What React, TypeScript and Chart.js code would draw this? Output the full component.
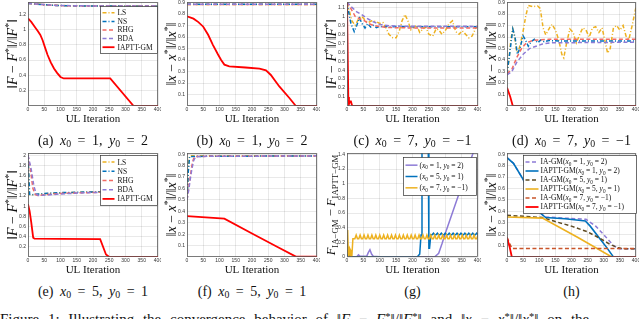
import React, { useEffect, useRef } from 'react';
import { Chart, registerables } from 'chart.js';
Chart.register(...registerables);

const SERIF = '"Liberation Serif", "DejaVu Serif", serif';
const SANS = '"Liberation Sans", "DejaVu Sans", sans-serif';

// ---------------- data ----------------
const X_TICKS = [0, 50, 100, 150, 200, 250, 300, 350, 400];

// (a) ||F-F*||/||F*||, x0=1, y0=2
const A_Y_TICKS = [0.2, 0.4, 0.6, 0.8, 1, 1.2];
const A_IT = [0, 25, 50, 75, 100, 150, 200, 300, 400];
const A_LS = [1.345, 1.335, 1.326, 1.319, 1.314, 1.31, 1.308, 1.307, 1.306];
const A_NS = [1.342, 1.332, 1.324, 1.317, 1.313, 1.309, 1.307, 1.306, 1.305];
const A_RHG = [1.344, 1.333, 1.325, 1.318, 1.313, 1.31, 1.308, 1.307, 1.306];
const A_BDA = [1.346, 1.335, 1.326, 1.319, 1.314, 1.311, 1.309, 1.308, 1.307];
const A_OURS_IT = [0, 10, 20, 30, 38, 45, 52, 60, 70, 80, 90, 100, 110, 253, 325, 400];
const A_OURS = [1.145, 1.1, 1.04, 0.98, 0.93, 0.86, 0.77, 0.67, 0.57, 0.49, 0.43, 0.38, 0.36, 0.36, 0.0, 0.0];

// (b) ||x-x*||/||x*||, x0=1, y0=2
const B_Y_TICKS = [0.1, 0.2, 0.3, 0.4, 0.5, 0.6, 0.7, 0.8, 0.9];
const B_IT = [0, 100, 200, 300, 400];
const B_LS = [0.884, 0.884, 0.884, 0.884, 0.884];
const B_NS = [0.885, 0.885, 0.885, 0.885, 0.885];
const B_RHG = [0.884, 0.884, 0.884, 0.884, 0.884];
const B_BDA = [0.885, 0.885, 0.885, 0.885, 0.885];
const B_OURS_IT = [0, 20, 35, 50, 65, 80, 95, 105, 115, 130, 180, 223, 243, 258, 284, 315, 335, 400];
const B_OURS = [0.78, 0.76, 0.73, 0.69, 0.62, 0.53, 0.45, 0.4, 0.36, 0.345, 0.335, 0.325, 0.31, 0.27, 0.17, 0.07, 0.0, 0.0];

// (c) ||F-F*||/||F*||, x0=7, y0=-1
const C_Y_TICKS = [0.1, 0.2, 0.3, 0.4, 0.5, 0.6, 0.7, 0.8, 0.9, 1, 1.1];
const C_LS_IT = [0, 8, 15, 25, 35, 45, 55, 65, 75, 90, 100, 110, 118, 128, 140, 150, 160, 168, 177, 186, 195, 205, 213, 222, 232, 240, 250, 262, 272, 280, 290, 300, 312, 322, 332, 342, 352, 362, 372, 382, 392, 400];
const C_LS = [1.15, 1.05, 0.95, 0.9, 0.97, 1.0, 0.96, 0.93, 0.95, 0.94, 0.92, 0.93, 0.88, 0.8, 0.76, 0.76, 0.84, 0.95, 1.02, 0.95, 0.85, 0.88, 0.9, 0.82, 0.86, 0.88, 0.8, 0.78, 0.86, 0.85, 0.8, 0.84, 0.92, 0.95, 0.83, 0.8, 0.84, 0.8, 0.76, 0.78, 0.86, 0.9];
const C_NS_IT = [0, 5, 12, 22, 30, 38, 46, 55, 63, 72, 80, 90, 100, 110, 120, 130, 150, 200, 250, 300, 350, 400];
const C_NS = [1.16, 1.05, 0.92, 0.83, 0.9, 0.98, 0.92, 0.87, 0.92, 0.88, 0.9, 0.875, 0.89, 0.878, 0.888, 0.882, 0.886, 0.884, 0.885, 0.884, 0.885, 0.885];
const C_RHG_IT = [0, 10, 25, 40, 50, 65, 80, 100, 130, 200, 400];
const C_RHG = [1.16, 1.1, 1.0, 0.97, 0.96, 0.92, 0.9, 0.885, 0.875, 0.87, 0.87];
const C_BDA_IT = [0, 15, 30, 45, 60, 80, 100, 130, 170, 400];
const C_BDA = [1.16, 1.1, 1.05, 1.02, 0.98, 0.94, 0.91, 0.895, 0.89, 0.888];
const C_OURS_IT = [0, 4, 6, 9, 12, 15, 18, 400];
const C_OURS = [1.15, 0.1, 0.02, 0.05, 0.05, 0.01, 0.0, 0.0];

// (d) ||x-x*||/||x*||, x0=7, y0=-1
const D_Y_TICKS = [0.1, 0.2, 0.3, 0.4, 0.5, 0.6, 0.7, 0.8, 0.9];
const D_LS_IT = [0, 6, 12, 18, 24, 30, 38, 48, 58, 66, 80, 95, 103, 112, 120, 132, 140, 150, 160, 170, 176, 185, 195, 205, 215, 225, 235, 245, 255, 265, 275, 285, 295, 305, 312, 320, 330, 340, 350, 360, 370, 378, 388, 400];
const D_LS = [0.28, 0.4, 0.58, 0.67, 0.6, 0.47, 0.5, 0.62, 0.78, 0.875, 0.865, 0.87, 0.85, 0.68, 0.62, 0.68, 0.71, 0.66, 0.58, 0.45, 0.42, 0.55, 0.67, 0.64, 0.55, 0.62, 0.68, 0.66, 0.6, 0.68, 0.69, 0.64, 0.68, 0.55, 0.46, 0.5, 0.68, 0.7, 0.66, 0.7, 0.6, 0.58, 0.7, 0.86];
const D_NS_IT = [0, 8, 18, 25, 32, 40, 50, 58, 66, 75, 85, 95, 105, 115, 130, 160, 400];
const D_NS = [0.28, 0.45, 0.67, 0.6, 0.45, 0.5, 0.61, 0.57, 0.52, 0.56, 0.58, 0.55, 0.575, 0.56, 0.57, 0.565, 0.565];
const D_RHG_IT = [0, 15, 30, 45, 60, 80, 100, 130, 400];
const D_RHG = [0.28, 0.32, 0.42, 0.5, 0.55, 0.57, 0.575, 0.58, 0.58];
const D_BDA_IT = [0, 15, 30, 50, 70, 90, 110, 140, 400];
const D_BDA = [0.27, 0.3, 0.38, 0.45, 0.5, 0.52, 0.54, 0.55, 0.555];
const D_OURS_IT = [0, 10, 18, 400];
const D_OURS = [0.16, 0.08, 0.0, 0.0];

// (e) ||F-F*||/||F*||, x0=5, y0=1
const E_Y_TICKS = [0.2, 0.4, 0.6, 0.8, 1, 1.2, 1.4, 1.6, 1.8, 2];
const E_LS_IT = [0, 4, 10, 50, 100, 200, 300, 400];
const E_LS = [2.0, 1.23, 1.22, 1.245, 1.26, 1.28, 1.285, 1.29];
const E_NS_IT = [0, 5, 12, 50, 100, 200, 400];
const E_NS = [2.0, 1.23, 1.225, 1.25, 1.265, 1.28, 1.29];
const E_RHG_IT = [0, 8, 15, 22, 30, 60, 100, 200, 400];
const E_RHG = [2.0, 1.7, 1.35, 1.23, 1.21, 1.23, 1.25, 1.27, 1.28];
const E_BDA_IT = [0, 10, 18, 25, 32, 60, 100, 200, 400];
const E_BDA = [2.0, 1.72, 1.4, 1.24, 1.21, 1.22, 1.24, 1.27, 1.28];
const E_OURS_IT = [0, 5, 10, 16, 20, 100, 222, 240, 250, 400];
const E_OURS = [1.04, 0.9, 0.68, 0.38, 0.36, 0.355, 0.35, 0.05, 0.0, 0.0];

// (f) ||x-x*||/||x*||, x0=5, y0=1
const F_Y_TICKS = [0.1, 0.2, 0.3, 0.4, 0.5, 0.6, 0.7, 0.8, 0.9];
const F_LS_IT = [0, 3, 6, 9, 400];
const F_LS = [0.5, 0.7, 0.86, 0.885, 0.885];
const F_NS_IT = [0, 4, 8, 400];
const F_NS = [0.5, 0.75, 0.88, 0.885];
const F_RHG_IT = [0, 5, 10, 15, 20, 25, 400];
const F_RHG = [0.5, 0.6, 0.7, 0.8, 0.86, 0.88, 0.885];
const F_BDA_IT = [0, 5, 10, 15, 20, 27, 400];
const F_BDA = [0.5, 0.58, 0.68, 0.77, 0.84, 0.88, 0.885];
const F_OURS_IT = [0, 115, 200, 280, 335, 400];
const F_OURS = [0.357, 0.335, 0.205, 0.085, 0.003, 0.003];

// (g) F_IA-GM - F_IAPTT-GM
const G_Y_TICKS = [0, 0.2, 0.4, 0.6, 0.8, 1, 1.2, 1.4];
const G_P1_IT = [0, 30, 35, 40, 60, 65, 70, 75, 80, 100, 200, 268, 280, 290, 300, 385, 400];
const G_P1 = [0, 0.005, 0.03, 0.01, 0.01, 0.06, 0.1, 0.04, 0.01, 0.005, 0.003, 0.003, 0.05, 0.18, 0.32, 1.42, 1.6];
const STEP4_256 = Array.from({ length: 37 }, (_, i) => 256 + 4 * i);
const G_P5_IT = [0, 3, 6, 10, 100, 200, 215, 222, 226, 229, 248, 250, 252, ...STEP4_256];
const G_P5 = [0.02, 0.14, 0.05, 0, 0, 0, 0.005, 0.04, 0.3, 1.6, 1.6, 0.12, 0.12,
  0.305, 0.305, 0.325, 0.305, 0.305, 0.325, 0.305, 0.305, 0.325, 0.305, 0.305, 0.325,
  0.305, 0.305, 0.325, 0.305, 0.305, 0.325, 0.305, 0.305, 0.325, 0.305, 0.305, 0.325,
  0.305, 0.305, 0.325, 0.305, 0.305, 0.325, 0.305, 0.305, 0.325, 0.305, 0.305, 0.325, 0.305];
const STEP4_20 = Array.from({ length: 96 }, (_, i) => 20 + 4 * i);
const G_P7_IT = [0, 2, 4, 6, 8, 10, 12, 15, 18, ...STEP4_20];
const G_P7 = [0.05, 0.37, 0.05, 0.0, 0.12, 0.1, 0.0, 0.02, 0.25,
  0.25, 0.25, 0.3, 0.25, 0.25, 0.3, 0.25, 0.25, 0.3, 0.25, 0.25, 0.3,
  0.25, 0.25, 0.3, 0.25, 0.25, 0.3, 0.25, 0.25, 0.3, 0.25, 0.25, 0.3,
  0.25, 0.25, 0.3, 0.25, 0.25, 0.3, 0.25, 0.25, 0.3, 0.25, 0.25, 0.3,
  0.25, 0.25, 0.3, 0.25, 0.25, 0.3, 0.25, 0.25, 0.3, 0.25, 0.25, 0.3,
  0.25, 0.25, 0.3, 0.25, 0.25, 0.3, 0.25, 0.25, 0.3, 0.25, 0.25, 0.3,
  0.25, 0.25, 0.3, 0.25, 0.25, 0.3, 0.25, 0.25, 0.3, 0.25, 0.25, 0.3,
  0.25, 0.25, 0.3, 0.25, 0.25, 0.3, 0.25, 0.25, 0.3, 0.25, 0.25, 0.3,
  0.25, 0.25, 0.3, 0.25, 0.25, 0.3, 0.25, 0.25, 0.3, 0.25, 0.25, 0.3];

// (h) ||x-x*||/||x*||, IA-GM vs IAPTT-GM
const H_Y_TICKS = [0.1, 0.2, 0.3, 0.4, 0.5, 0.6, 0.7, 0.8, 0.9];
const H_IA1_IT = [0, 20, 50, 70, 90, 105, 120, 180, 245, 275, 305, 330, 348, 400];
const H_IA1 = [0.87, 0.82, 0.68, 0.56, 0.45, 0.38, 0.35, 0.34, 0.33, 0.27, 0.18, 0.1, 0.072, 0.072];
const H_OU1_IT = [0, 20, 50, 70, 90, 105, 120, 180, 243, 258, 285, 310, 330, 400];
const H_OU1 = [0.87, 0.82, 0.68, 0.56, 0.45, 0.38, 0.345, 0.335, 0.315, 0.27, 0.17, 0.08, 0.0, 0.0];
const H_IA5_IT = [0, 60, 110, 150, 200, 250, 290, 320, 345, 360, 400];
const H_IA5 = [0.365, 0.355, 0.345, 0.31, 0.27, 0.22, 0.16, 0.11, 0.08, 0.072, 0.072];
const H_OU5_IT = [0, 110, 220, 325, 400];
const H_OU5 = [0.35, 0.34, 0.17, 0.0, 0.0];
const H_IA7_IT = [0, 8, 15, 400];
const H_IA7 = [0.17, 0.12, 0.075, 0.075];
const H_OU7_IT = [0, 8, 15, 400];
const H_OU7 = [0.17, 0.09, 0.0, 0.0];

const CAPTIONS = [
  '(a) $x$_0 = 1, $y$_0 = 2', '(b) $x$_0 = 1, $y$_0 = 2', '(c) $x$_0 = 7, $y$_0 = −1', '(d) $x$_0 = 7, $y$_0 = −1',
  '(e) $x$_0 = 5, $y$_0 = 1', '(f) $x$_0 = 5, $y$_0 = 1', '(g)', '(h)',
];
const FIG_TEXT = 'Figure 1: Illustrating the convergence behavior of ‖$F$ − $F$^*‖/‖$F$^*‖ and ‖$x$ − $x$^*‖/‖$x$^*‖ on the';
const TITLE_F = '‖$F$ − $F$^*‖/‖$F$^*‖';
const TITLE_X = '‖$x$ − $x$^*‖/‖$x$^*‖';
const TITLE_G = '$F$_{IA−GM} − $F$_{IAPTT−GM}';

// ---------------- styles ----------------
const COL_LS = '#EDB120';
const COL_NS = '#0072BD';
const COL_RHG = '#F26A63';
const COL_BDA = '#8D7BD6';
const COL_OURS = '#FF0000';
const COL_BROWN = '#5E4B23';
const COL_ORANGE = '#C9552B';
const DASH_DOT = [4, 2, 1, 2];
const DASHED = [4, 2.5];
const SOLID: number[] = [];

type Seg = { t: string; it: boolean; sub: number };
function parse(s: string): Seg[] {
  const out: Seg[] = [];
  let it = false, buf = '', i = 0;
  const flush = () => { if (buf) { out.push({ t: buf, it, sub: 0 }); buf = ''; } };
  while (i < s.length) {
    const c = s[i];
    if (c === '$') { flush(); it = !it; i++; continue; }
    if (c === '_' || c === '^') {
      flush();
      let t = '';
      if (s[i + 1] === '{') { const j = s.indexOf('}', i + 2); t = s.slice(i + 2, j); i = j + 1; }
      else { t = s[i + 1]; i += 2; }
      out.push({ t, it: false, sub: c === '_' ? -1 : 1 });
      continue;
    }
    buf += c; i++;
  }
  flush();
  return out;
}
function segFont(g: Seg, size: number) {
  const sz = g.sub ? size * 0.7 : size;
  return `${g.it ? 'italic ' : ''}${sz}px ${SERIF}`;
}
function segWidth(ctx: CanvasRenderingContext2D, segs: Seg[], size: number) {
  let w = 0;
  for (const g of segs) { ctx.font = segFont(g, size); w += ctx.measureText(g.t).width; }
  return w;
}
function drawSegs(ctx: CanvasRenderingContext2D, segs: Seg[], x: number, yMid: number, size: number, color: string) {
  ctx.fillStyle = color;
  ctx.textBaseline = 'alphabetic';
  ctx.textAlign = 'left';
  let cx = x;
  const base = yMid + size * 0.33;
  for (const g of segs) {
    ctx.font = segFont(g, size);
    const dy = g.sub === -1 ? size * 0.22 : g.sub === 1 ? -size * 0.35 : 0;
    ctx.fillText(g.t, cx, base + dy);
    cx += ctx.measureText(g.t).width;
  }
}
function toNodes(s: string) {
  return parse(s).map((g, i) => {
    if (g.sub === -1) return <sub key={i} style={{ fontSize: '0.7em', verticalAlign: '-0.25em' }}>{g.t}</sub>;
    if (g.sub === 1) return <sup key={i} style={{ fontSize: '0.7em', verticalAlign: '0.4em' }}>{g.t}</sup>;
    if (g.it) return <i key={i}>{g.t}</i>;
    return <span key={i}>{g.t}</span>;
  });
}

type Line = { label: string; it: number[]; val: number[]; color: string; dash: number[]; width: number };
type LegendCfg = { right: number; top: number; w: number; h: number; s0: number; s1: number; tx: number; font: number; lines: Line[] };
type Panel = { rect: [number, number, number, number]; yMax: number; yTicks: number[]; yTitle: string; titleSize: number; lines: Line[]; legend?: LegendCfg };

const L = (label: string, it: number[], val: number[], color: string, dash: number[], width: number): Line => ({ label, it, val, color, dash, width });

const four = (it1: number[], ls: number[], it2: number[], ns: number[], it3: number[], rhg: number[], it4: number[], bda: number[], it5: number[], ours: number[]) => [
  L('LS', it1, ls, COL_LS, DASH_DOT, 1.5),
  L('NS', it2, ns, COL_NS, DASH_DOT, 1.5),
  L('RHG', it3, rhg, COL_RHG, DASHED, 1.5),
  L('BDA', it4, bda, COL_BDA, DASHED, 1.5),
  L('IAPTT-GM', it5, ours, COL_OURS, SOLID, 1.8),
];

const A_LINES = four(A_IT, A_LS, A_IT, A_NS, A_IT, A_RHG, A_IT, A_BDA, A_OURS_IT, A_OURS);
const E_LINES = four(E_LS_IT, E_LS, E_NS_IT, E_NS, E_RHG_IT, E_RHG, E_BDA_IT, E_BDA, E_OURS_IT, E_OURS);
const G_LINES = [
  L('($x$_0 = 1, $y$_0 = 2)', G_P1_IT, G_P1, COL_BDA, SOLID, 1.5),
  L('($x$_0 = 5, $y$_0 = 1)', G_P5_IT, G_P5, COL_NS, SOLID, 1.5),
  L('($x$_0 = 7, $y$_0 = −1)', G_P7_IT, G_P7, COL_LS, SOLID, 1.5),
];
const H_LINES = [
  L('IA-GM($x$_0 = 1, $y$_0 = 2)', H_IA1_IT, H_IA1, COL_BDA, DASHED, 1.5),
  L('IAPTT-GM($x$_0 = 1, $y$_0 = 2)', H_OU1_IT, H_OU1, COL_NS, SOLID, 1.6),
  L('IA-GM($x$_0 = 5, $y$_0 = 1)', H_IA5_IT, H_IA5, COL_BROWN, DASHED, 1.5),
  L('IAPTT-GM($x$_0 = 5, $y$_0 = 1)', H_OU5_IT, H_OU5, COL_LS, SOLID, 1.6),
  L('IA-GM($x$_0 = 7, $y$_0 = −1)', H_IA7_IT, H_IA7, COL_ORANGE, DASHED, 1.5),
  L('IAPTT-GM($x$_0 = 7, $y$_0 = −1)', H_OU7_IT, H_OU7, COL_OURS, SOLID, 1.8),
];

const PANELS: Panel[] = [
  { rect: [28, 2, 158, 106], yMax: 1.36, yTicks: A_Y_TICKS, yTitle: TITLE_F, titleSize: 14, lines: A_LINES,
    legend: { right: 1, top: 4, w: 57, h: 47, s0: 2, s1: 14, tx: 17, font: 7.5, lines: A_LINES } },
  { rect: [187, 2, 317, 106], yMax: 0.905, yTicks: B_Y_TICKS, yTitle: TITLE_X, titleSize: 14,
    lines: four(B_IT, B_LS, B_IT, B_NS, B_IT, B_RHG, B_IT, B_BDA, B_OURS_IT, B_OURS) },
  { rect: [347, 2, 478, 106], yMax: 1.16, yTicks: C_Y_TICKS, yTitle: TITLE_F, titleSize: 14,
    lines: four(C_LS_IT, C_LS, C_NS_IT, C_NS, C_RHG_IT, C_RHG, C_BDA_IT, C_BDA, C_OURS_IT, C_OURS) },
  { rect: [507, 2, 636, 106], yMax: 0.905, yTicks: D_Y_TICKS, yTitle: TITLE_X, titleSize: 14,
    lines: four(D_LS_IT, D_LS, D_NS_IT, D_NS, D_RHG_IT, D_RHG, D_BDA_IT, D_BDA, D_OURS_IT, D_OURS) },
  { rect: [28, 153, 158, 257], yMax: 2.045, yTicks: E_Y_TICKS, yTitle: TITLE_F, titleSize: 14, lines: E_LINES,
    legend: { right: 1, top: 2, w: 57, h: 50, s0: 2, s1: 14, tx: 17, font: 7.5, lines: E_LINES } },
  { rect: [187, 153, 317, 257], yMax: 0.91, yTicks: F_Y_TICKS, yTitle: TITLE_X, titleSize: 14,
    lines: four(F_LS_IT, F_LS, F_NS_IT, F_NS, F_RHG_IT, F_RHG, F_BDA_IT, F_BDA, F_OURS_IT, F_OURS) },
  { rect: [347, 153, 478, 257], yMax: 1.42, yTicks: G_Y_TICKS, yTitle: TITLE_G, titleSize: 12.5, lines: G_LINES,
    legend: { right: 2, top: 4, w: 73, h: 38, s0: 2, s1: 14, tx: 16, font: 7.5, lines: G_LINES } },
  { rect: [507, 153, 636, 257], yMax: 0.91, yTicks: H_Y_TICKS, yTitle: TITLE_X, titleSize: 14, lines: H_LINES,
    legend: { right: 0, top: 2, w: 113, h: 58, s0: 2, s1: 15, tx: 17, font: 7.5, lines: H_LINES } },
];

const fmt = (v: number) => String(Number(v.toFixed(2)));

function PanelChart({ p }: { p: Panel }) {
  const ref = useRef<HTMLCanvasElement>(null);
  const [l, t, r, b] = p.rect;
  const W = r - l + 31;
  const H = b - t + 26;
  useEffect(() => {
    const decor = {
      id: 'decor',
      afterDatasetsDraw(chart: any) {
        const ctx: CanvasRenderingContext2D = chart.ctx;
        const a = chart.chartArea;
        ctx.save();
        // frame
        ctx.strokeStyle = '#5a5a5a';
        ctx.lineWidth = 0.8;
        ctx.setLineDash([]);
        ctx.strokeRect(Math.round(a.left) + 0.5, Math.round(a.top) + 0.5, Math.round(a.right - a.left) - 1, Math.round(a.bottom - a.top) - 1);
        // y title
        const segs = parse(p.yTitle);
        const size = p.titleSize;
        const w = segWidth(ctx, segs, size);
        ctx.translate(a.left - 16, (a.top + a.bottom) / 2);
        ctx.rotate(-Math.PI / 2);
        drawSegs(ctx, segs, -w / 2, 0, size, '#111');
        ctx.restore();
        // legend
        const lg = p.legend;
        if (lg) {
          ctx.save();
          const x1 = Math.round(a.right - lg.right - lg.w) + 0.5;
          const y1 = Math.round(a.top + lg.top) + 0.5;
          ctx.fillStyle = '#fff';
          ctx.fillRect(x1, y1, lg.w, lg.h);
          ctx.strokeStyle = '#333';
          ctx.lineWidth = 0.7;
          ctx.strokeRect(x1, y1, lg.w, lg.h);
          const n = lg.lines.length;
          const pad = 2;
          lg.lines.forEach((ln, i) => {
            const cy = y1 + pad + ((lg.h - 2 * pad) / n) * (i + 0.5);
            ctx.strokeStyle = ln.color;
            ctx.lineWidth = ln.width;
            ctx.setLineDash(ln.dash);
            ctx.beginPath();
            ctx.moveTo(x1 + lg.s0, cy);
            ctx.lineTo(x1 + lg.s1, cy);
            ctx.stroke();
            ctx.setLineDash([]);
            drawSegs(ctx, parse(ln.label), x1 + lg.tx, cy, lg.font, '#111');
          });
          ctx.restore();
        }
      },
    };
    const chart = new Chart(ref.current!, {
      type: 'line',
      data: {
        datasets: p.lines.map((ln, i) => ({
          label: ln.label,
          data: ln.it.map((x, k) => ({ x, y: ln.val[k] })),
          borderColor: ln.color,
          borderDash: ln.dash,
          borderWidth: ln.width,
          pointRadius: 0,
          fill: false,
          tension: 0,
          order: p.lines.length - i,
        })),
      },
      options: {
        animation: false,
        responsive: false,
        devicePixelRatio: 1,
        layout: { padding: { top: 2, right: 3, left: 0, bottom: 0 } },
        plugins: { legend: { display: false }, tooltip: { enabled: false } },
        scales: {
          x: {
            type: 'linear', min: 0, max: 400,
            afterBuildTicks: (s: any) => { s.ticks = X_TICKS.map((v) => ({ value: v })); },
            ticks: { font: { family: SANS, size: 5 }, color: '#333', padding: 1, maxRotation: 0, autoSkip: false, callback: (v: any) => fmt(Number(v)) },
            grid: { color: 'rgba(0,0,0,0.11)', drawTicks: false, lineWidth: 0.8 },
            border: { display: false },
            title: { display: true, text: 'UL Iteration', font: { family: SERIF, size: 11, lineHeight: 1.2 }, color: '#111', padding: { top: 0, bottom: 4 } },
            afterFit: (s: any) => { s.height = 24; s.paddingLeft = 0; s.paddingRight = 0; },
          },
          y: {
            type: 'linear', min: 0, max: p.yMax,
            afterBuildTicks: (s: any) => { s.ticks = p.yTicks.map((v) => ({ value: v })); },
            ticks: { font: { family: SANS, size: 5 }, color: '#333', padding: 2, autoSkip: false, callback: (v: any) => fmt(Number(v)) },
            grid: { color: 'rgba(0,0,0,0.11)', drawTicks: false, lineWidth: 0.8 },
            border: { display: false },
            afterFit: (s: any) => { s.width = 28; s.paddingTop = 0; s.paddingBottom = 0; },
          },
        },
      },
      plugins: [decor],
    } as any);
    return () => chart.destroy();
  }, []);
  return <canvas ref={ref} width={W} height={H} style={{ position: 'absolute', left: l - 28, top: t - 2, width: W, height: H }} />;
}

export default function App() {
  return (
    <div style={{ position: 'fixed', left: 0, top: 0, width: 640, height: 319, overflow: 'hidden', background: '#fff' }}>
      {PANELS.map((p, i) => <PanelChart key={i} p={p} />)}
      {PANELS.map((p, i) => {
        const [l, , r, b] = p.rect;
        const cx = (l + r) / 2;
        return (
          <div key={'c' + i} style={{ position: 'absolute', left: cx - 100, width: 200, top: b + 27, textAlign: 'center', fontFamily: SERIF, fontSize: 14, lineHeight: '16px', whiteSpace: 'nowrap', color: '#111', wordSpacing: 3 }}>
            {toNodes(CAPTIONS[i])}
          </div>
        );
      })}
      <div style={{ position: 'absolute', left: 0, top: 308, whiteSpace: 'nowrap', fontFamily: SERIF, fontSize: 15, lineHeight: '17px', color: '#111', wordSpacing: 5 }}>
        {toNodes(FIG_TEXT)}
      </div>
    </div>
  );
}
